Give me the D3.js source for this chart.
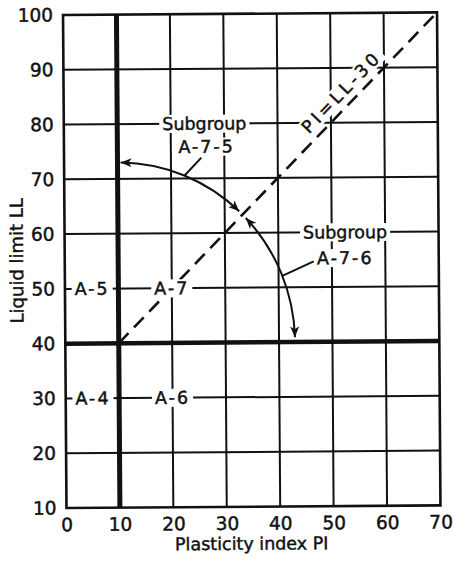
<!DOCTYPE html>
<html>
<head>
<meta charset="utf-8">
<script src="https://cdn.jsdelivr.net/npm/d3@7"></script>
<style>
    body { margin: 0; background: #fff; }
    svg { display: block; }
    text { font-family: "DejaVu Sans", sans-serif; fill: #111; stroke: #111; stroke-width: 0.45px; }
</style>
</head>
<body>
<div id="chart-area"></div>
<script>

// Axis values
var piTicks = [0, 10, 20, 30, 40, 50, 60, 70];
var llTicks = [10, 20, 30, 40, 50, 60, 70, 80, 90, 100];

// Group boundaries
var boundaryPI = 10;
var boundaryLL = 40;
var dividerLine = [[10, 40], [70, 100]];   // PI = LL - 30

// Group labels: text, PI, LL (where the label sits)
var groupNames = ["A-5", "A-7", "A-4", "A-6"];
var groupPI = [5.1, 20, 5.1, 20];
var groupLL = [50, 50, 30, 30];

// Subgroup labels
var subNames = ["Subgroup", "A-7-5", "Subgroup", "A-7-6"];
var subPI = [26.3, 26.7, 52.5, 52.5];
var subLL = [80, 75.8, 60, 55.3];

// Leader lines from subgroup labels to the arc
var leaders = [
    [[25.7, 73.8], [22.5, 70.5]],
    [[46.6, 54.7], [40.7, 52.1]]
];

// Arc around the intersection of the boundaries
var arcCenter = [10, 40];
var arcRadius = 33;
var arcAngles = [89, 46.5, 43.5, 1.5];

var dividerText = "PI=LL-30";
var dividerPos = [52.0, 85.6];

var margin = { top: 13.7, right: 15.25, bottom: 56.3, left: 64.75 };
var width = 454 - margin.left - margin.right,
    height = 563 - margin.top - margin.bottom;

var svg = d3.select("#chart-area").append("svg")
    .attr("width", 454)
    .attr("height", 563);

// the scan is tilted a little
var g = svg.append("g")
    .attr("transform", "rotate(-0.4, 251.75, 260.2) translate(" + margin.left + "," + margin.top + ")");

var x = d3.scaleLinear().domain([0, 70]).range([0, width]);
var y = d3.scaleLinear().domain([10, 100]).range([height, 0]);

// Grid
g.append("g").selectAll("line.vgrid")
    .data(piTicks.slice(1, -1).filter(function(d) { return d != boundaryPI; }))
    .enter().append("line")
    .attr("x1", function(d) { return x(d); })
    .attr("x2", function(d) { return x(d); })
    .attr("y1", 0)
    .attr("y2", height)
    .attr("stroke", "#111")
    .attr("stroke-width", 2);

g.append("g").selectAll("line.hgrid")
    .data(llTicks.slice(1, -1).filter(function(d) { return d != boundaryLL; }))
    .enter().append("line")
    .attr("x1", 0)
    .attr("x2", width)
    .attr("y1", function(d) { return y(d); })
    .attr("y2", function(d) { return y(d); })
    .attr("stroke", "#111")
    .attr("stroke-width", 2);

g.append("rect")
    .attr("width", width)
    .attr("height", height)
    .attr("fill", "none")
    .attr("stroke", "#111")
    .attr("stroke-width", 2.6);

// Thick boundaries
g.append("line")
    .attr("x1", x(boundaryPI)).attr("x2", x(boundaryPI))
    .attr("y1", 0).attr("y2", height)
    .attr("stroke", "#111")
    .attr("stroke-width", 5);

g.append("line")
    .attr("x1", 0).attr("x2", width)
    .attr("y1", y(boundaryLL)).attr("y2", y(boundaryLL))
    .attr("stroke", "#111")
    .attr("stroke-width", 4.5);

// Dashed divider (label boxes cut it where it meets A-7)
g.append("line")
    .attr("x1", x(dividerLine[0][0])).attr("y1", y(dividerLine[0][1]))
    .attr("x2", x(dividerLine[1][0])).attr("y2", y(dividerLine[1][1]))
    .attr("stroke", "#111")
    .attr("stroke-width", 2.6)
    .attr("stroke-dasharray", "14,8");

// Axes
var xAxis = d3.axisBottom(x).tickValues(piTicks).tickSize(0).tickPadding(10);
var yAxis = d3.axisLeft(y).tickValues(llTicks).tickSize(0).tickPadding(10);

var xAxisGroup = g.append("g")
    .attr("transform", "translate(0," + height + ")")
    .call(xAxis);
var yAxisGroup = g.append("g").call(yAxis);

[xAxisGroup, yAxisGroup].forEach(function(ax) {
    ax.select(".domain").remove();
    ax.selectAll("text")
        .attr("font-family", "DejaVu Sans")
        .attr("font-size", 18.5)
        .attr("fill", "#111");
});

g.append("text")
    .attr("x", width / 2 - 2)
    .attr("y", height + 43)
    .attr("text-anchor", "middle")
    .attr("font-size", 17.5)
    .text("Plasticity index PI");

g.append("text")
    .attr("transform", "translate(" + (-48) + "," + (y(55) - 1) + ") rotate(-90)")
    .attr("text-anchor", "middle")
    .attr("dy", "0.35em")
    .attr("font-size", 18)
    .text("Liquid limit LL");

// Labels with a white box that breaks the grid lines
function addLabel(parent, txt, px, py, spacing) {
    var lg = parent.append("g")
        .attr("transform", "translate(" + px + "," + py + ")");
    var t = lg.append("text")
        .attr("text-anchor", "middle")
        .attr("dy", "0.35em")
        .attr("font-size", 17.5)
        .attr("letter-spacing", spacing)
        .text(txt);
    var bb = t.node().getBBox();
    lg.insert("rect", "text")
        .attr("x", bb.x - 3)
        .attr("y", bb.y + 1)
        .attr("width", bb.width + 6)
        .attr("height", bb.height - 2)
        .attr("fill", "#fff")
        .attr("stroke", "none");
    return lg;
}

var labelLayer = g.append("g");

groupNames.forEach(function(d, i) {
    addLabel(labelLayer, d, x(groupPI[i]), y(groupLL[i]), 2);
});

subNames.forEach(function(d, i) {
    addLabel(labelLayer, d, x(subPI[i]), y(subLL[i]), d == "Subgroup" ? 0 : 2);
});

var piLabel = addLabel(labelLayer, dividerText, x(dividerPos[0]), y(dividerPos[1]), 3.5);
var angle = Math.atan2(y(dividerLine[0][1]) - y(dividerLine[1][1]), x(dividerLine[1][0]) - x(dividerLine[0][0])) * 180 / Math.PI;
piLabel.attr("transform", piLabel.attr("transform") + " rotate(" + (-angle) + ")");

// Leaders
g.append("g").selectAll("line")
    .data(leaders)
    .enter().append("line")
    .attr("x1", function(d) { return x(d[0][0]); })
    .attr("y1", function(d) { return y(d[0][1]); })
    .attr("x2", function(d) { return x(d[1][0]); })
    .attr("y2", function(d) { return y(d[1][1]); })
    .attr("stroke", "#111")
    .attr("stroke-width", 2);

// Arrow marker
svg.append("defs").append("marker")
    .attr("id", "arrow")
    .attr("viewBox", "0 -5 12 10")
    .attr("refX", 11)
    .attr("refY", 0)
    .attr("markerWidth", 12)
    .attr("markerHeight", 10)
    .attr("markerUnits", "userSpaceOnUse")
    .attr("orient", "auto-start-reverse")
    .append("path")
    .attr("d", "M0,-4.5L11,0L0,4.5L3,0Z")
    .attr("fill", "#111");

function arcPoint(a) {
    var r = a * Math.PI / 180;
    return [x(arcCenter[0] + arcRadius * Math.cos(r)), y(arcCenter[1] + arcRadius * Math.sin(r))];
}
var rx = x(arcCenter[0] + arcRadius) - x(arcCenter[0]);
var ry = y(arcCenter[1]) - y(arcCenter[1] + arcRadius);

var p0 = arcPoint(arcAngles[0]), p1 = arcPoint(arcAngles[1]),
    p2 = arcPoint(arcAngles[2]), p3 = arcPoint(arcAngles[3]);

g.append("path")
    .attr("d", "M" + p0 + "A" + rx + "," + ry + " 0 0 1 " + p1)
    .attr("fill", "none")
    .attr("stroke", "#111")
    .attr("stroke-width", 2)
    .attr("marker-start", "url(#arrow)")
    .attr("marker-end", "url(#arrow)");

g.append("path")
    .attr("d", "M" + p3 + "A" + rx + "," + ry + " 0 0 0 " + p2)
    .attr("fill", "none")
    .attr("stroke", "#111")
    .attr("stroke-width", 2)
    .attr("marker-start", "url(#arrow)")
    .attr("marker-end", "url(#arrow)");

</script>
</body>
</html>
